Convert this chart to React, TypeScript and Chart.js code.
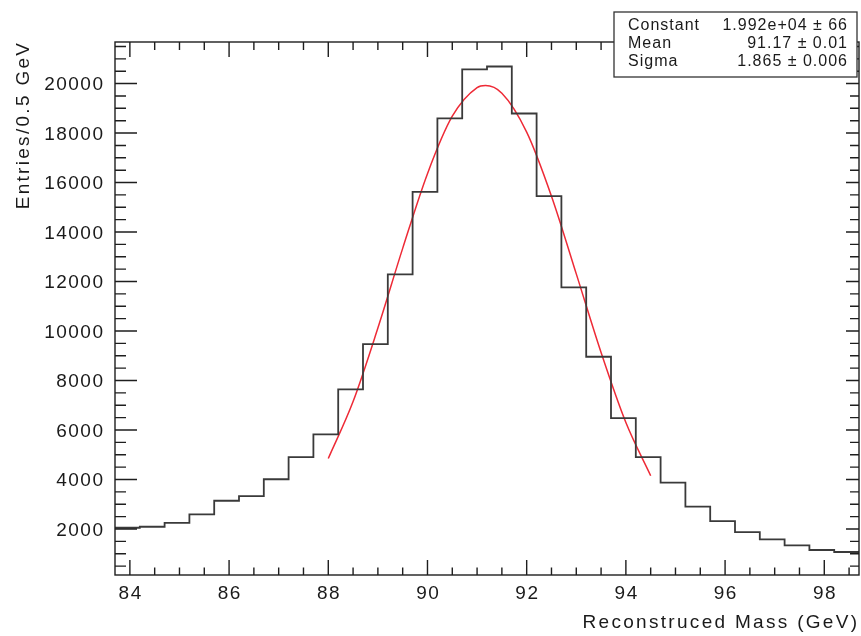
import React, { useEffect, useRef } from "react";
import { Chart, registerables } from "chart.js";

Chart.register(...registerables);

// ---- Histogram data (30 bins of 0.5 GeV starting at 83.7 GeV) ----
const binLowEdge = 83.7;
const binWidth = 0.5;
const binCounts = [
  2050, 2090, 2250, 2590, 3140, 3330, 4010, 4900, 5820, 7640,
  9470, 12290, 15620, 18590, 20570, 20690, 18790, 15450, 11760, 8960,
  6480, 4900, 3870, 2900, 2320, 1870, 1580, 1340, 1150, 1070,
];

// ---- Gaussian fit curve ----
const fitX = [88.0, 88.5, 89.0, 89.5, 90.0, 90.5, 91.0, 91.17, 91.5, 92.0, 92.5, 93.0, 93.5, 94.0, 94.5];
const fitY = [4850, 7150, 10120, 13340, 16360, 18680, 19840, 19920, 19610, 18040, 15450, 12310, 9130, 6300, 4150];

// ---- Axes ----
const xMin = 83.7;
const xMax = 98.7;
const yMin = 140;
const yMax = 21680;
const xMajorTicks = [84, 86, 88, 90, 92, 94, 96, 98];
const xMinorStep = 0.5;
const yMajorTicks = [2000, 4000, 6000, 8000, 10000, 12000, 14000, 16000, 18000, 20000];
const yMinorStep = 500;
const xTitle = "Reconstruced Mass (GeV)";
const yTitle = "Entries/0.5 GeV";

// ---- Stats box ----
const statNames = ["Constant", "Mean", "Sigma"];
const statValues = ["1.992e+04 \u00b1 66", "91.17 \u00b1 0.01", "1.865 \u00b1 0.006"];

const FONT = '"Liberation Sans", Arial, Helvetica, sans-serif';

const rootFramePlugin = {
  id: "rootFrame",
  afterDatasetsDraw(chart: any) {
    const { ctx, chartArea: a, scales } = chart;
    const xs = scales.x;
    const ys = scales.y;
    ctx.save();
    ctx.strokeStyle = "#1e1e1e";
    ctx.lineWidth = 1.4;
    ctx.strokeRect(a.left, a.top, a.right - a.left, a.bottom - a.top);

    // x ticks (bottom + top)
    ctx.beginPath();
    const kx0 = Math.ceil(xMin / xMinorStep - 1e-9);
    const kx1 = Math.floor(xMax / xMinorStep + 1e-9);
    for (let k = kx0; k <= kx1; k++) {
      const v = k * xMinorStep;
      const major = xMajorTicks.some((t) => Math.abs(t - v) < 1e-6);
      const px = xs.getPixelForValue(v);
      const lb = major ? 15 : 7.5;
      const lt = major ? 15 : 8;
      ctx.moveTo(px, a.bottom);
      ctx.lineTo(px, a.bottom - lb);
      ctx.moveTo(px, a.top);
      ctx.lineTo(px, a.top + lt);
    }
    // y ticks (left + right)
    const ky0 = Math.ceil(yMin / yMinorStep - 1e-9);
    const ky1 = Math.floor(yMax / yMinorStep + 1e-9);
    for (let k = ky0; k <= ky1; k++) {
      const v = k * yMinorStep;
      const major = yMajorTicks.indexOf(v) >= 0;
      const py = ys.getPixelForValue(v);
      const ll = major ? 22 : 11;
      const lr = major ? 13 : 9;
      ctx.moveTo(a.left, py);
      ctx.lineTo(a.left + ll, py);
      ctx.moveTo(a.right, py);
      ctx.lineTo(a.right - lr, py);
    }
    ctx.stroke();

    // tick labels
    ctx.fillStyle = "#1a1a1a";
    ctx.font = `19px ${FONT}`;
    (ctx as any).letterSpacing = "1.5px";
    ctx.textAlign = "right";
    ctx.textBaseline = "middle";
    for (const v of yMajorTicks) {
      const py = ys.getPixelForValue(v);
      ctx.fillText(String(v), a.left - 12 + 1.5, py + 1.5);
    }
    ctx.textAlign = "center";
    ctx.textBaseline = "alphabetic";
    for (const v of xMajorTicks) {
      const px = xs.getPixelForValue(v);
      ctx.fillText(String(v), px + 0.75, a.bottom + 24);
    }

    // axis titles
    (ctx as any).letterSpacing = "2.3px";
    ctx.textAlign = "right";
    ctx.fillText(xTitle, a.right + 0.3, a.bottom + 53);
    ctx.save();
    ctx.translate(29, a.top + 1);
    ctx.rotate(-Math.PI / 2);
    ctx.textAlign = "right";
    ctx.fillText(yTitle, 2.3, 0);
    ctx.restore();

    // stats box
    const bx = 614, by = 12, bw = 243, bh = 65;
    ctx.fillStyle = "#ffffff";
    ctx.fillRect(bx, by, bw, bh);
    ctx.strokeStyle = "#333333";
    ctx.lineWidth = 1.3;
    ctx.strokeRect(bx, by, bw, bh);
    ctx.fillStyle = "#1a1a1a";
    ctx.font = `16px ${FONT}`;
    (ctx as any).letterSpacing = "1px";
    const baselines = [30, 48, 66];
    statNames.forEach((n, i) => {
      ctx.textAlign = "left";
      ctx.fillText(n, bx + 14, baselines[i]);
      ctx.textAlign = "right";
      ctx.fillText(statValues[i], bx + bw - 10 + 1, baselines[i]);
    });
    ctx.restore();
  },
};

export default function App() {
  const canvasRef = useRef<HTMLCanvasElement | null>(null);

  useEffect(() => {
    const canvas = canvasRef.current;
    if (!canvas) return;
    const histPoints = binCounts.map((c, i) => ({ x: binLowEdge + i * binWidth, y: c }));
    histPoints.push({ x: binLowEdge + binCounts.length * binWidth, y: binCounts[binCounts.length - 1] });
    const fitPoints = fitX.map((x, i) => ({ x, y: fitY[i] }));

    const chart = new Chart(canvas, {
      type: "line",
      data: {
        datasets: [
          {
            data: histPoints,
            stepped: "before",
            borderColor: "#3a3a3a",
            borderWidth: 1.8,
            pointRadius: 0,
            fill: false,
          },
          {
            data: fitPoints,
            borderColor: "#ee2a36",
            borderWidth: 1.5,
            pointRadius: 0,
            fill: false,
            cubicInterpolationMode: "monotone",
          },
        ],
      },
      options: {
        animation: false,
        responsive: false,
        devicePixelRatio: 1,
        events: [],
        layout: { padding: { left: 115, right: 2, top: 42, bottom: 61 } },
        plugins: { legend: { display: false }, tooltip: { enabled: false } },
        scales: {
          x: { type: "linear", min: xMin, max: xMax, display: false },
          y: { type: "linear", min: yMin, max: yMax, display: false },
        },
      },
      plugins: [rootFramePlugin],
    } as any);
    return () => chart.destroy();
  }, []);

  return (
    <div style={{ position: "fixed", left: 0, top: 0, width: 861, height: 636, background: "#fff" }}>
      <canvas ref={canvasRef} width={861} height={636} style={{ display: "block", width: 861, height: 636 }} />
    </div>
  );
}
